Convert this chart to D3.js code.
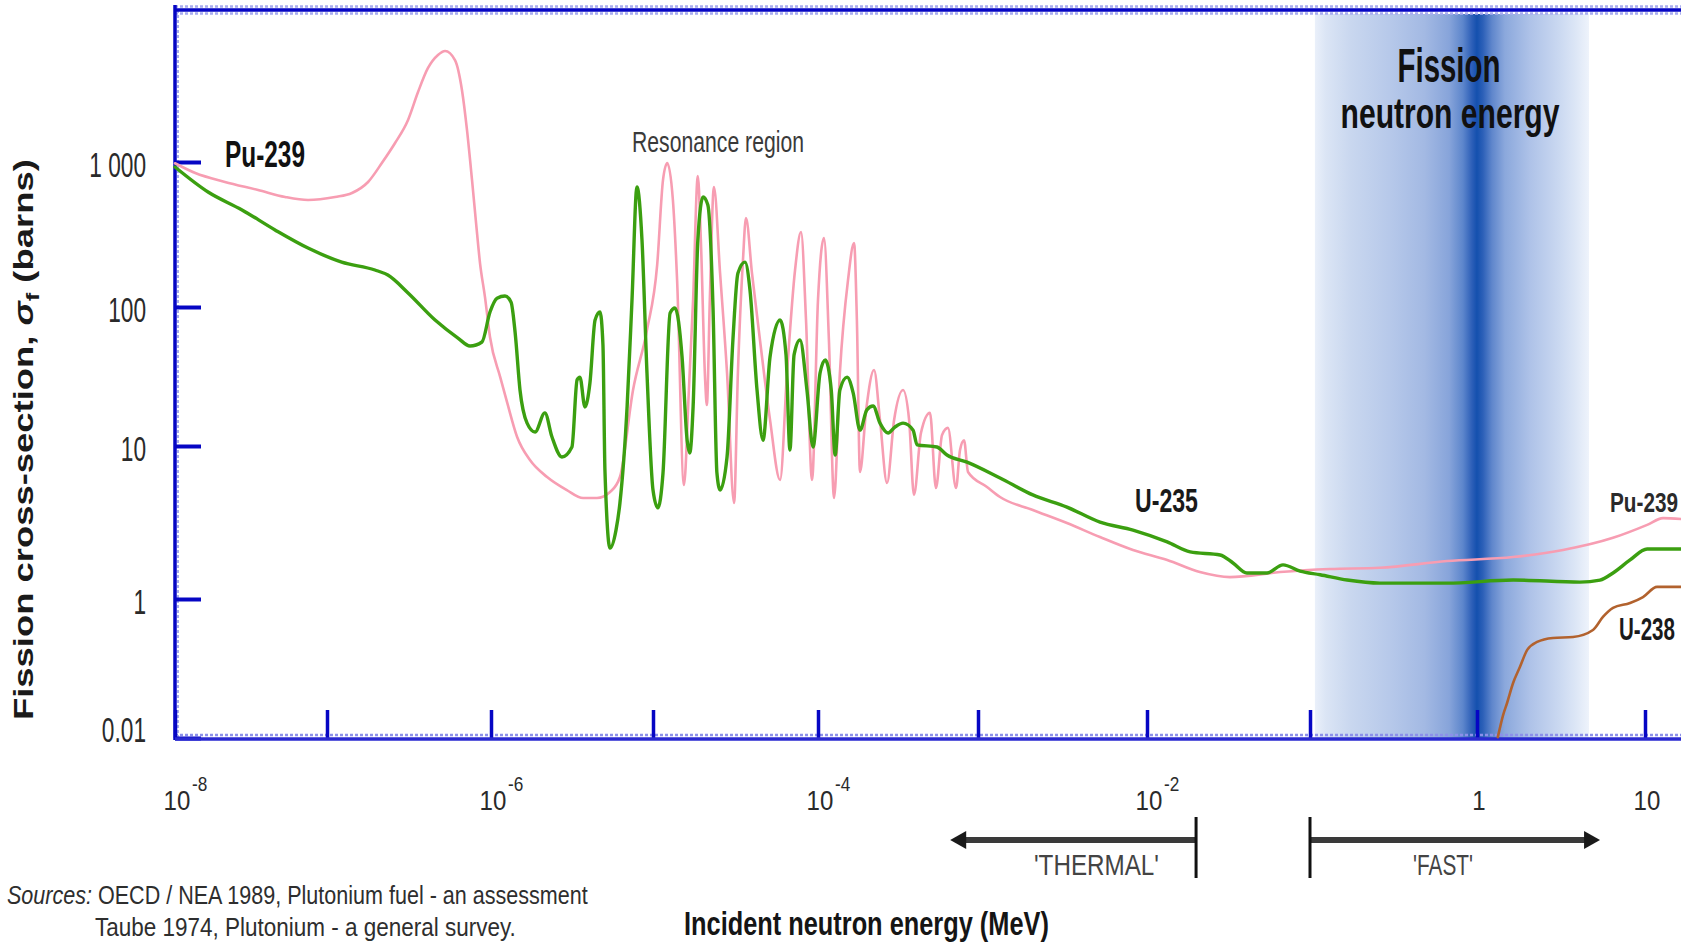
<!DOCTYPE html>
<html>
<head>
<meta charset="utf-8">
<script src="https://cdn.jsdelivr.net/npm/d3@7"></script>
<style>
html, body { margin: 0; padding: 0; background: #fff; overflow: hidden; }
svg { display: block; }
</style>
</head>
<body>
<svg id="chart" width="1681" height="946"></svg>
<script>
// ---------------- DATA (energy in MeV, cross-section in barns) ----------------
const pu239Energy = [
  1.0e-8, 1.36e-8, 2.13e-8, 3.52e-8, 5.30e-8, 7.50e-8, 1.12e-7, 1.42e-7, 1.78e-7, 2.16e-7,
  2.60e-7, 3.12e-7, 3.59e-7, 4.13e-7, 4.75e-7, 5.25e-7, 6.03e-7, 6.65e-7, 7.14e-7, 7.66e-7,
  8.11e-7, 8.57e-7, 9.19e-7, 9.86e-7, 1.14e-6, 1.26e-6, 1.45e-6, 1.74e-6, 2.22e-6, 2.94e-6,
  3.70e-6, 4.51e-6, 5.43e-6, 6.25e-6, 7.53e-6, 9.18e-6, 1.06e-5, 1.15e-5, 1.22e-5, 1.32e-5,
  1.40e-5, 1.54e-5, 1.65e-5, 1.75e-5, 1.87e-5, 1.95e-5, 2.07e-5, 2.12e-5, 2.21e-5, 2.34e-5,
  2.55e-5, 2.81e-5, 3.10e-5, 3.27e-5, 3.51e-5, 3.66e-5, 3.98e-5, 4.45e-5, 5.12e-5, 5.89e-5,
  6.49e-5, 7.26e-5, 7.89e-5, 8.46e-5, 9.20e-5, 1.00e-4, 1.09e-4, 1.17e-4, 1.26e-4, 1.37e-4,
  1.54e-4, 1.68e-4, 1.75e-4, 1.83e-4, 2.00e-4, 2.24e-4, 2.44e-4, 2.70e-4, 2.99e-4, 3.40e-4,
  3.71e-4, 3.98e-4, 4.40e-4, 5.01e-4, 5.46e-4, 5.96e-4, 6.49e-4, 7.29e-4, 7.72e-4, 8.18e-4,
  8.66e-4, 1.13e-3, 1.35e-3, 2.11e-3, 3.36e-3, 5.27e-3, 8.26e-3, 1.33e-2, 2.11e-2, 3.23e-2,
  6.55e-2, 0.132, 0.262, 0.661, 1.64, 3.25, 6.45, 10.3, 12.8, 16.4
];
const pu239Sigma = [
  980, 839, 728, 641, 574, 547, 574, 611, 728, 984,
  1352, 1950, 3040, 4450, 5470, 5830, 5050, 3140, 1660, 752,
  379, 201, 117, 60.8, 31.3, 20.4, 11.6, 8.09, 6.27, 5.15,
  4.57, 4.57, 5.00, 6.27, 25.3, 68.4, 195, 752, 984, 547,
  153, 5.56, 25.3, 112, 800, 290, 29.9, 19.7, 112, 673,
  171, 33.5, 4.24, 33.5, 211, 411, 171, 57.9, 15.4, 6.00,
  33.5, 180, 329, 80.6, 6.00, 112, 299, 57.9, 4.57, 33.5,
  153, 276, 80.6, 6.76, 18.2, 35.2, 15.4, 5.73, 15.4, 25.3,
  15.4, 4.79, 12.4, 17.3, 5.31, 12.0, 13.5, 5.31, 9.42, 11.0,
  6.76, 5.40, 4.64, 3.82, 3.14, 2.54, 2.09, 1.80, 1.50, 1.39,
  1.50, 1.57, 1.60, 1.77, 1.88, 2.09, 2.51, 3.05, 3.38, 3.33
];

const u235Energy = [
  1.0e-8, 1.65e-8, 2.76e-8, 4.55e-8, 7.50e-8, 1.23e-7, 1.96e-7, 2.35e-7, 3.12e-7, 4.56e-7,
  6.29e-7, 7.45e-7, 8.81e-7, 9.86e-7, 1.09e-6, 1.22e-6, 1.33e-6, 1.41e-6, 1.51e-6, 1.67e-6,
  1.87e-6, 2.15e-6, 2.38e-6, 2.74e-6, 3.16e-6, 3.40e-6, 3.54e-6, 3.80e-6, 4.08e-6, 4.39e-6,
  4.71e-6, 4.91e-6, 5.05e-6, 5.43e-6, 5.91e-6, 6.25e-6, 6.92e-6, 7.42e-6, 7.96e-6, 8.55e-6,
  9.18e-6, 1.00e-5, 1.07e-5, 1.15e-5, 1.27e-5, 1.36e-5, 1.50e-5, 1.61e-5, 1.67e-5, 1.75e-5,
  1.87e-5, 2.01e-5, 2.15e-5, 2.31e-5, 2.44e-5, 2.55e-5, 2.81e-5, 3.05e-5, 3.27e-5, 3.61e-5,
  3.87e-5, 4.27e-5, 4.64e-5, 5.12e-5, 5.89e-5, 6.40e-5, 6.76e-5, 7.16e-5, 7.78e-5, 8.57e-5,
  9.33e-5, 1.03e-4, 1.11e-4, 1.21e-4, 1.28e-4, 1.37e-4, 1.52e-4, 1.66e-4, 1.83e-4, 2.02e-4,
  2.21e-4, 2.44e-4, 2.74e-4, 3.03e-4, 3.40e-4, 3.93e-4, 4.16e-4, 5.54e-4, 6.40e-4, 8.54e-4,
  1.35e-3, 2.11e-3, 3.36e-3, 5.27e-3, 8.26e-3, 1.33e-2, 1.84e-2, 2.81e-2, 3.37e-2, 4.10e-2,
  5.45e-2, 6.83e-2, 8.69e-2, 0.115, 0.167, 0.262, 0.661, 1.64, 4.10, 5.40,
  6.45, 8.15, 10.3, 16.4
];
const u235Sigma = [
  924, 621, 467, 340, 255, 204, 180, 166, 125, 80.6,
  59.8, 52.4, 56.0, 92.0, 115, 119, 108, 65.0, 25.3, 14.6,
  12.6, 17.3, 11.6, 8.47, 9.85, 29.9, 31.3, 19.1, 28.4, 80.6,
  92.0, 53.3, 6.97, 2.15, 2.82, 4.24, 19.1, 112, 673, 290,
  33.5, 5.15, 3.94, 6.67, 90.6, 98.4, 43.7, 11.0, 9.0, 19.1,
  290, 574, 505, 100, 6.67, 5.15, 8.47, 57.9, 171, 204,
  131, 25.3, 11.0, 43.7, 80.6, 45.2, 9.42, 45.2, 57.9, 25.3,
  9.85, 33.5, 41.6, 25.3, 8.73, 25.3, 31.3, 24.0, 13.0, 18.2,
  19.4, 14.6, 12.4, 13.7, 14.6, 13.0, 10.2, 9.85, 8.73, 7.85,
  6.18, 4.79, 3.99, 3.18, 2.82, 2.36, 2.03, 1.94, 1.72, 1.48,
  1.48, 1.67, 1.52, 1.44, 1.33, 1.27, 1.27, 1.33, 1.29, 1.33,
  1.48, 1.80, 2.12, 2.12
];

const u238Energy = [1.33, 1.43, 1.51, 1.64, 1.80, 1.99, 2.28, 2.83, 3.73, 4.90, 5.62, 6.45, 8.15, 9.73, 11.8, 16.4];
const u238Sigma  = [0.0103, 0.0214, 0.0319, 0.0618, 0.105, 0.185, 0.241, 0.275, 0.284, 0.358, 0.551, 0.743, 0.875, 1.03, 1.20, 1.20];

const xTickValues = [1e-8, 1e-7, 1e-6, 1e-5, 1e-4, 1e-3, 1e-2, 1e-1, 1, 10];
const xLabelValues = [1e-8, 1e-6, 1e-4, 1e-2, 1, 10];
const xLabelBase = ["10", "10", "10", "10", "1", "10"];
const xLabelExp = ["-8", "-6", "-4", "-2", "", ""];
const yTickValues = [0.01, 1, 10, 100, 1000];
const yTickLabels = ["0.01", "1", "10", "100", "1 000"];

const fissionBand = [0.107, 1, 4.64];     // MeV: start, peak, end of fission-neutron band
const thermalRange = [6.7e-4, 0.02];       // MeV: arrow tip, boundary
const fastRange = [0.1, 5.4];              // MeV: boundary, arrow tip

// ---------------- LAYOUT ----------------
const FONT = "'Liberation Sans', Arial, Helvetica, sans-serif";
const xRangePx = [175, 327, 491, 653, 818, 978, 1147, 1310, 1477, 1645];
const yRangePx = [738, 599, 446, 307, 162];
const plotLeft = 175, plotTop = 10, plotBottom = 738, plotRight = 1681;

const x = d3.scaleLog().domain(xTickValues).range(xRangePx);
const y = d3.scaleLog().domain(yTickValues).range(yRangePx);

const svg = d3.select("#chart");
const defs = svg.append("defs");

// Fission band gradient
const grad = defs.append("linearGradient").attr("id", "bandGrad")
  .attr("x1", 0).attr("x2", 1).attr("y1", 0).attr("y2", 0);
[
  [0.00, "#eaf0fa"], [0.04, "#dbe5f5"], [0.13, "#c9d7ef"], [0.27, "#b7c9ea"],
  [0.40, "#a3b9e3"], [0.49, "#87a4da"], [0.54, "#5d86cc"], [0.573, "#2d5fb8"],
  [0.591, "#1450ae"], [0.613, "#2c60b8"], [0.646, "#5f86cc"], [0.693, "#8ba8dc"],
  [0.785, "#aec2e8"], [0.894, "#cbd9f1"], [0.95, "#dce6f6"], [1.00, "#eef3fb"]
].forEach(([o, c]) => grad.append("stop").attr("offset", o).attr("stop-color", c));

svg.append("rect")
  .attr("x", x(fissionBand[0]))
  .attr("width", x(fissionBand[2]) - x(fissionBand[0]))
  .attr("y", plotTop + 4)
  .attr("height", plotBottom - plotTop - 4)
  .attr("fill", "url(#bandGrad)");

// ---------------- AXES ----------------
const axisBlue = "#0606c4";
const halo = "#a9adf0";

// halo lines
svg.append("line").attr("x1", plotLeft).attr("x2", plotRight).attr("y1", plotTop - 3.5).attr("y2", plotTop - 3.5)
  .attr("stroke", halo).attr("stroke-width", 2.5).attr("stroke-dasharray", "3,2");
svg.append("line").attr("x1", plotLeft).attr("x2", plotRight).attr("y1", plotTop + 3.5).attr("y2", plotTop + 3.5)
  .attr("stroke", halo).attr("stroke-width", 2.5).attr("stroke-dasharray", "3,2");
svg.append("line").attr("x1", plotLeft).attr("x2", plotRight).attr("y1", plotBottom - 3).attr("y2", plotBottom - 3)
  .attr("stroke", "#8c90ea").attr("stroke-width", 2.5).attr("stroke-dasharray", "3,2");
svg.append("line").attr("x1", plotLeft + 3).attr("x2", plotLeft + 3).attr("y1", plotTop).attr("y2", plotBottom)
  .attr("stroke", halo).attr("stroke-width", 2).attr("stroke-dasharray", "3,2");

const xAxis = d3.axisBottom(x).tickValues(xTickValues).tickSize(-28).tickFormat("");
svg.append("g").attr("transform", `translate(0,${plotBottom})`).call(xAxis)
  .call(g => {
    g.select(".domain").remove();
    g.selectAll(".tick line").attr("stroke", axisBlue).attr("stroke-width", 3.5);
  });

const yAxis = d3.axisLeft(y).tickValues(yTickValues).tickSize(-26).tickFormat("");
svg.append("g").attr("transform", `translate(${plotLeft},0)`).call(yAxis)
  .call(g => {
    g.select(".domain").remove();
    g.selectAll(".tick line").attr("stroke", axisBlue).attr("stroke-width", 4);
  });

// main axis lines
svg.append("line").attr("x1", plotLeft).attr("x2", plotRight).attr("y1", plotTop).attr("y2", plotTop)
  .attr("stroke", axisBlue).attr("stroke-width", 3.5);
svg.append("line").attr("x1", plotLeft).attr("x2", plotLeft).attr("y1", plotTop - 5).attr("y2", plotBottom + 2)
  .attr("stroke", axisBlue).attr("stroke-width", 3.5);
svg.append("line").attr("x1", plotLeft).attr("x2", plotRight).attr("y1", plotBottom + 1).attr("y2", plotBottom + 1)
  .attr("stroke", "#2a2ad0").attr("stroke-width", 3.5);

// ---------------- CURVES ----------------
const line = d3.line()
  .x(d => x(d[0]))
  .y(d => y(d[1]))
  .curve(d3.curveMonotoneX);

const pu239 = d3.zip(pu239Energy, pu239Sigma);
const u235 = d3.zip(u235Energy, u235Sigma);
const u238 = d3.zip(u238Energy, u238Sigma);

svg.append("path").datum(pu239).attr("d", line)
  .attr("fill", "none").attr("stroke", "#f79db2").attr("stroke-width", 2.6)
  .attr("stroke-linejoin", "round").attr("stroke-linecap", "round");
svg.append("path").datum(u235).attr("d", line)
  .attr("fill", "none").attr("stroke", "#3b9f10").attr("stroke-width", 3.4)
  .attr("stroke-linejoin", "round").attr("stroke-linecap", "round");
svg.append("path").datum(u238).attr("d", line)
  .attr("fill", "none").attr("stroke", "#b2622e").attr("stroke-width", 2.6)
  .attr("stroke-linejoin", "round").attr("stroke-linecap", "round");

// ---------------- TEXT HELPERS ----------------
function addText(parent, px, py, opts, build) {
  const g = parent.append("g").attr("transform", `translate(${px},${py})` + (opts.rotate ? ` rotate(${opts.rotate})` : ""));
  const t = g.append("text")
    .attr("x", 0).attr("y", 0)
    .attr("font-family", FONT)
    .attr("font-size", opts.size)
    .attr("font-weight", opts.weight || "normal")
    .attr("font-style", opts.italic ? "italic" : "normal")
    .attr("fill", opts.fill || "#111")
    .attr("text-anchor", opts.anchor || "start");
  if (typeof build === "function") build(t); else t.text(build);
  let s = opts.sx || 1;
  if (opts.width) {
    const w = t.node().getComputedTextLength();
    if (w > 0) s = opts.width / w;
  }
  t.attr("transform", `scale(${s},1)`);
  return t;
}

// Y tick labels
yTickValues.forEach((v, i) => {
  addText(svg, 146, Math.min(y(v) + 15, 742), { size: 36, anchor: "end", sx: 0.63, fill: "#2a2a2a" }, yTickLabels[i]);
});

// X tick labels with superscript exponents
xLabelValues.forEach((v, i) => {
  const cx = x(v) + 2;
  addText(svg, cx, 810, { size: 28, anchor: "middle", sx: 0.86, fill: "#2a2a2a" }, xLabelBase[i]);
  if (xLabelExp[i]) {
    addText(svg, cx + 15, 791, { size: 20, anchor: "start", sx: 0.86, fill: "#2a2a2a" }, xLabelExp[i]);
  }
});

// Y axis title (rotated)
addText(svg, 33, 720, { size: 27, weight: "bold", rotate: -90, width: 561, fill: "#1a1a1a" }, t => {
  t.append("tspan").text("Fission cross-section, ");
  t.append("tspan").attr("font-style", "italic").text("\u03C3");
  t.append("tspan").attr("font-size", 19).attr("dy", 6).text("f");
  t.append("tspan").attr("dy", -6).text(" (barns)");
});

// X axis title
addText(svg, 684, 935, { size: 34, weight: "bold", width: 365, fill: "#151515" }, "Incident neutron energy (MeV)");

// Sources
addText(svg, 7, 904, { size: 25, width: 581, fill: "#2e2e2e" }, t => {
  t.append("tspan").attr("font-style", "italic").text("Sources: ");
  t.append("tspan").text("OECD / NEA 1989, Plutonium fuel - an assessment");
});
addText(svg, 95, 936, { size: 25, width: 421, fill: "#2e2e2e" }, "Taube 1974, Plutonium - a general survey.");

// Series labels
addText(svg, 225, 167, { size: 37, weight: "bold", width: 80, fill: "#111" }, "Pu-239");
addText(svg, 632, 152, { size: 30, width: 172, fill: "#3a3a3a" }, "Resonance region");
addText(svg, 1135, 512, { size: 33, weight: "bold", width: 63, fill: "#1a1a1a" }, "U-235");
addText(svg, 1610, 512, { size: 27, weight: "bold", width: 68, fill: "#2a2a2a" }, "Pu-239");
addText(svg, 1619, 640, { size: 32, weight: "bold", width: 56, fill: "#1a1a1a" }, "U-238");

// Fission band title
addText(svg, 1449, 82, { size: 48, weight: "bold", anchor: "middle", width: 103, fill: "#111" }, "Fission");
addText(svg, 1450, 128, { size: 42, weight: "bold", anchor: "middle", width: 219, fill: "#111" }, "neutron energy");

// ---------------- THERMAL / FAST ARROWS ----------------
const arrowY = 840;
const arrowColor = "#3a3a3a";
// thermal
const tx0 = x(thermalRange[0]), tx1 = x(thermalRange[1]);
svg.append("line").attr("x1", tx1).attr("x2", tx0 + 12).attr("y1", arrowY).attr("y2", arrowY)
  .attr("stroke", arrowColor).attr("stroke-width", 6);
svg.append("path").attr("d", `M${tx0},${arrowY} L${tx0 + 16},${arrowY - 9} L${tx0 + 16},${arrowY + 9} Z`).attr("fill", "#1a1a1a");
svg.append("line").attr("x1", tx1).attr("x2", tx1).attr("y1", 817).attr("y2", 878)
  .attr("stroke", "#111").attr("stroke-width", 3);
// fast
const fx0 = x(fastRange[0]), fx1 = x(fastRange[1]);
svg.append("line").attr("x1", fx0).attr("x2", fx1 - 12).attr("y1", arrowY).attr("y2", arrowY)
  .attr("stroke", arrowColor).attr("stroke-width", 6);
svg.append("path").attr("d", `M${fx1},${arrowY} L${fx1 - 16},${arrowY - 9} L${fx1 - 16},${arrowY + 9} Z`).attr("fill", "#1a1a1a");
svg.append("line").attr("x1", fx0).attr("x2", fx0).attr("y1", 817).attr("y2", 878)
  .attr("stroke", "#111").attr("stroke-width", 3);

addText(svg, 1034, 875, { size: 30, width: 125, fill: "#444" }, "'THERMAL'");
addText(svg, 1413, 875, { size: 30, width: 60, fill: "#444" }, "'FAST'");
</script>
</body>
</html>
